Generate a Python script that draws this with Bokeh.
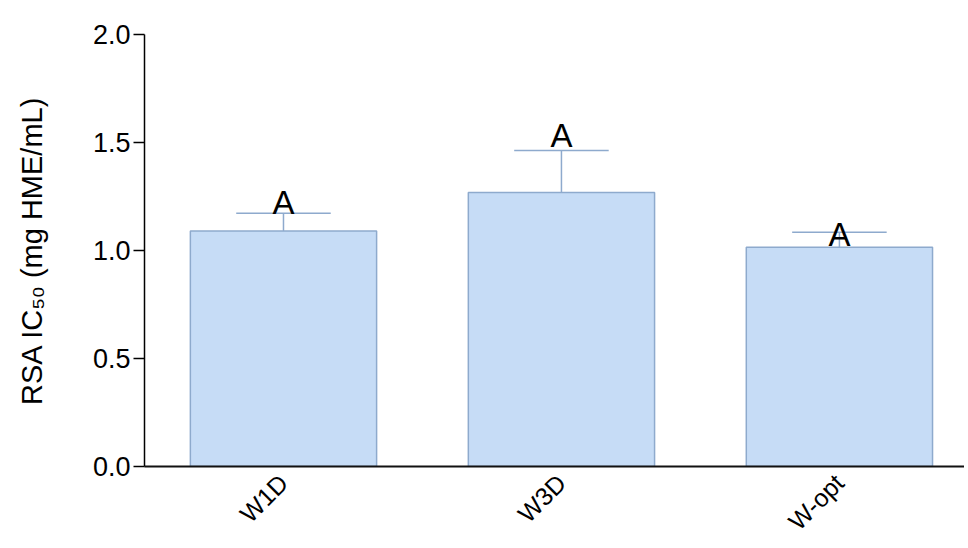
import math
from bokeh.plotting import figure
from bokeh.models import ColumnDataSource, Range1d, FixedTicker, CustomJSTickFormatter
from bokeh.embed import file_html
from bokeh.resources import INLINE
from bokeh.core.properties import value

# ---- data ----
groups = ["W1D", "W3D", "W-opt"]
means = [1.090, 1.269, 1.015]
errors = [0.082, 0.194, 0.070]
letters = ["A", "A", "A"]
letter_y = [1.171, 1.481, 1.023]
y_ticks = [0.0, 0.5, 1.0, 1.5, 2.0]

BAR_W = 0.67
CAP_W = 0.34
FILL = "#c6dcf6"
EDGE = "#8eaacd"
FONT = "Liberation Sans"

xs = list(range(len(groups)))
tops = [m + e for m, e in zip(means, errors)]
src = ColumnDataSource(dict(
    x=xs, mean=means, top=tops,
    cap_l=[x - CAP_W / 2 for x in xs], cap_r=[x + CAP_W / 2 for x in xs],
    ly=letter_y, lab=letters,
))

p = figure(width=964, height=548, output_backend="svg", toolbar_location=None,
           x_range=Range1d(-0.5, 2.45), y_range=Range1d(0, 2.0),
           min_border_left=144, min_border_top=34, min_border_bottom=82,
           min_border_right=0)
p.outline_line_color = None
p.xgrid.grid_line_color = None
p.ygrid.grid_line_color = None

# error bars (upper only)
p.segment(x0="x", y0="mean", x1="x", y1="top", source=src, line_color=EDGE, line_width=1.5)
p.segment(x0="cap_l", y0="top", x1="cap_r", y1="top", source=src, line_color=EDGE, line_width=1.5)

p.vbar(x="x", top="mean", bottom=0, width=BAR_W, source=src,
       fill_color=FILL, line_color=EDGE, line_width=1.5)

p.text(x="x", y="ly", text="lab", source=src, text_align="center",
       text_baseline="bottom", y_offset=7, text_font=value(FONT), text_font_size="33px",
       text_color="black")

# y axis
ya = p.yaxis[0]
ya.ticker = FixedTicker(ticks=y_ticks)
ya.formatter = CustomJSTickFormatter(code="return tick.toFixed(1);")
ya.axis_label = "RSA IC₅₀ (mg HME/mL)"
ya.axis_label_text_font = FONT
ya.axis_label_text_font_style = "normal"
ya.axis_label_text_font_size = "29px"
ya.axis_label_text_color = "black"
ya.axis_label_standoff = 42
ya.major_label_text_font = FONT
ya.major_label_text_font_size = "27px"
ya.major_label_text_color = "black"
ya.major_label_standoff = 3
ya.major_tick_out = 11
ya.major_tick_in = 0
ya.minor_tick_line_color = None
ya.axis_line_color = "black"
ya.axis_line_width = 1.5
ya.major_tick_line_color = "black"
ya.major_tick_line_width = 1.5

# x axis
xa = p.xaxis[0]
xa.ticker = FixedTicker(ticks=xs)
xa.major_label_overrides = {i: g for i, g in zip(xs, groups)}
xa.major_label_orientation = math.pi / 4
xa.major_label_text_font = FONT
xa.major_label_text_font_size = "25px"
xa.major_label_text_color = "black"
xa.major_label_standoff = 12
xa.major_tick_out = 0
xa.major_tick_in = 0
xa.minor_tick_line_color = None
xa.axis_line_color = "#111111"
xa.axis_line_width = 2

open("out.html", "w").write(file_html(p, INLINE))
